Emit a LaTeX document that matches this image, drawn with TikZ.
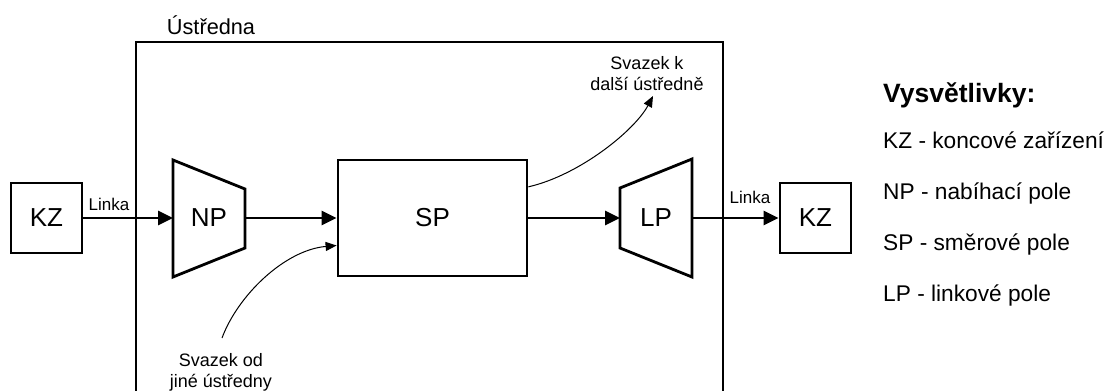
\documentclass[tikz,border=0pt]{standalone}
\usepackage{fontspec}
\setmainfont{Liberation Sans}
\usetikzlibrary{arrows.meta}
\begin{document}
\begin{tikzpicture}[x=1pt,y=-1pt,
  thickline/.style={line width=2.8pt},
  blockbox/.style={draw, line width=2.8pt, inner sep=0pt, font=\fontsize{26}{30}\selectfont},
  thickarrow/.style={line width=2.8pt, -{Triangle[length=15pt,width=14pt]}},
  thinarrow/.style={line width=1pt, -{Triangle[length=11pt,width=9pt]}},
  lbl/.style={inner sep=0pt, font=\fontsize{17}{20}\selectfont},
  note/.style={inner sep=0pt, align=center, font=\fontsize{18}{21}\selectfont},
  legend/.style={inner sep=0pt, anchor=base west, font=\fontsize{22.7}{27}\selectfont}]
\useasboundingbox (0,0) rectangle (1104,391);

% exchange box (open at the bottom)
\draw[thickline] (136,393) -- (136,42) -- (723,42) -- (723,393);
\node[anchor=base, inner sep=0pt, font=\fontsize{21.7}{26}\selectfont] (ustredna) at (211,34) {Ústředna};

% left terminal
\node[blockbox, minimum width=71pt, minimum height=70pt] (kzl) at (46.5,218) {KZ};

% NP trapezium
\coordinate (np1) at (173,160);
\coordinate (np2) at (245,189);
\coordinate (np3) at (245,248);
\coordinate (np4) at (173,277);
\draw[thickline] (np1) -- (np2) -- (np3) -- (np4) -- cycle;
\node[inner sep=0pt, font=\fontsize{26}{30}\selectfont] (np) at (209,218) {NP};
\coordinate (npin) at (173,218);
\coordinate (npout) at (245,218);

% SP
\node[blockbox, minimum width=189pt, minimum height=116pt] (sp) at (432.5,218) {SP};

% LP trapezium
\coordinate (lp1) at (620,188);
\coordinate (lp2) at (692,159);
\coordinate (lp3) at (692,277);
\coordinate (lp4) at (620,248);
\draw[thickline] (lp1) -- (lp2) -- (lp3) -- (lp4) -- cycle;
\node[inner sep=0pt, font=\fontsize{26}{30}\selectfont] (lp) at (656,218) {LP};
\coordinate (lpin) at (620,218);
\coordinate (lpout) at (692,218);

% right terminal
\node[blockbox, minimum width=71pt, minimum height=70pt] (kzr) at (815.5,218) {KZ};

% main arrows
\draw[thickarrow] (kzl.east) -- (npin);
\draw[thickarrow] (npout) -- (sp.west);
\draw[thickarrow] (sp.east) -- (lpin);
\draw[thickarrow] (lpout) -- (kzr.west);

\node[lbl, anchor=base] (linka1) at (109,210) {Linka};
\node[lbl, anchor=base] (linka2) at (750,203) {Linka};

% trunk to other exchange
\node[note, anchor=base] (svk) at (647,90) {Svazek k\\další ústředně};
\coordinate (svkend) at (653,96);
\draw[thinarrow] (sp.18) .. controls (580,175) and (635,130) .. (svkend);

% trunk from other exchange
\node[note, anchor=base] (svod) at (221,387) {Svazek od\\jiné ústředny};
\coordinate (svodstart) at (222,338);
\draw[thinarrow] (svodstart) .. controls (238,295) and (285,250) .. (sp.196.5);

% legend
\node[inner sep=0pt, anchor=base west, font=\fontsize{26.5}{30}\selectfont\bfseries] (leg0) at (883,102) {Vysvětlivky:};
\node[legend] (leg1) at (883,148) {KZ - koncové zařízení};
\node[legend] (leg2) at (883,199) {NP - nabíhací pole};
\node[legend] (leg3) at (883,250) {SP - směrové pole};
\node[legend] (leg4) at (883,301) {LP - linkové pole};
\end{tikzpicture}
\end{document}
